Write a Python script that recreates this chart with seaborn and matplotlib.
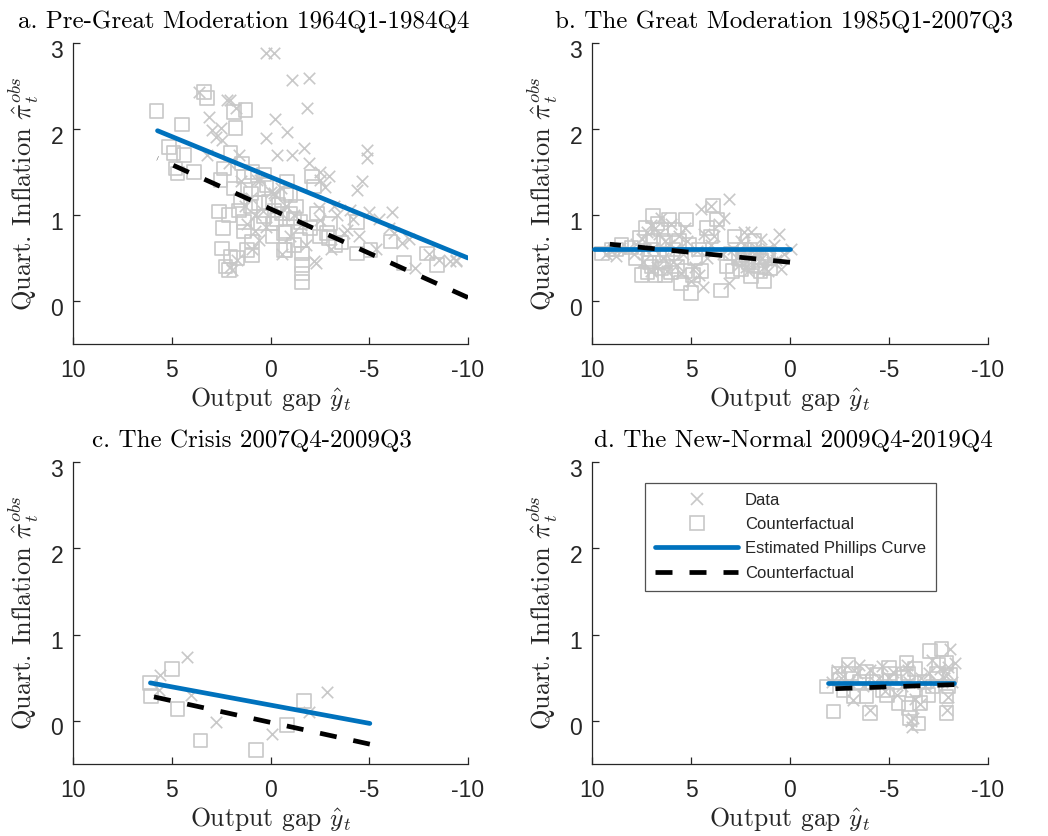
import numpy as np
import pandas as pd
import matplotlib
matplotlib.use("Agg")
import matplotlib.pyplot as plt
import matplotlib.transforms as mtransforms
from matplotlib.lines import Line2D
import seaborn as sns

# ---------------- data ----------------
titles = ["a. Pre-Great Moderation 1964Q1-1984Q4",
          "b. The Great Moderation 1985Q1-2007Q3",
          "c. The Crisis 2007Q4-2009Q3",
          "d. The New-Normal 2009Q4-2019Q4"]
x_ticks = [10, 5, 0, -5, -10]
x_ticklabels = ["10", "5", "0", "-5", "-10"]
y_ticks = [0, 1, 2, 3]
y_ticklabels = ["0", "1", "2", "3"]
legend_labels = ["Data", "Counterfactual", "Estimated Phillips Curve", "Counterfactual"]

# panel a
a_data_x = [0.25, -0.17, -1.10, -1.94, -1.86, 3.63, 2.03, 1.77, 3.12, -0.25, 2.95, 2.53, 2.78, 2.45,
            0.25, -0.34, -0.84, -1.10, -1.69, -1.94, -2.53, -2.95, -4.9, -4.9, -4.64, -4.39, -4.98,
            -6.16, -2.78, -2.45, -3.38, -3.71, -4.47, -5.32, -6.67, -2.19, -3.04, -7.34, -8.52, -9.11,
            -9.37, -2.53, -0.51, 0.67, 0.0, -0.25, -0.51, 0.76, 0.59, 0.25, 1.69, 1.94, 2.03, 0.93,
            -1.52, -2.53, -4.05, -6.24, -0.17, 0.51, -3.88, -2.28, 1.6, 1.0, 1.3, 0.8, -0.8, -1.2,
            1.5, 0.4, -1.0, -1.8, -3.2, -4.2, -5.5, -6.0, -7.0, -8.0, -9.4, 3.2, 2.1, 1.2, -0.6, 2.19]
a_data_y = [2.88, 2.88, 2.57, 2.59, 2.24, 2.43, 2.34, 2.24, 2.14, 2.12, 1.99, 2.01, 1.91, 1.87,
            1.89, 1.70, 1.97, 1.70, 1.78, 1.60, 1.50, 1.45, 1.76, 1.66, 1.39, 1.29, 1.04,
            1.04, 1.33, 1.08, 1.00, 0.79, 0.75, 0.61, 0.67, 0.46, 0.61, 0.38, 0.48, 0.46,
            0.48, 1.41, 1.02, 1.41, 1.27, 1.23, 1.31, 0.81, 0.71, 0.86, 0.48, 0.36, 0.40, 0.61,
            0.88, 0.94, 1.06, 0.79, 1.25, 1.41, 0.83, 0.44, 1.70, 1.20, 1.10, 1.00, 1.10, 1.00,
            1.40, 1.05, 0.75, 0.65, 1.10, 0.95, 0.95, 0.85, 0.72, 0.55, 0.47, 1.70, 1.60, 0.90, 0.55, 2.34]
a_cf_x = [5.77, 4.47, 3.38, 3.21, 1.86, 1.27, 1.77, 5.15, 4.90, 4.39, 4.81, 4.72, 3.88, 2.36,
          2.03, 1.43, 2.53, 1.86, 1.35, 0.93, 0.34, 2.62, 2.11, 1.52, 1.35, 1.01, 0.59, 0.34,
          1.35, 0.93, -0.09, -0.59, -0.68, -0.68, 2.45, 2.03, 1.69, 2.28, 2.11, 1.18, 0.93,
          -0.84, -1.01, -2.11, -2.19, -1.18, -1.52, -0.76, -1.52, -0.76, -1.60, -1.60, -1.60, -1.60,
          -2.36, -2.87, -3.29, -2.95, -4.39, -4.39, -5.06, -6.08, -6.75, -7.93, -8.44, 1.0, 0.6,
          -0.2, -0.4, -0.3, 0.1, -1.3, -1.0, 0.5, -0.1, -1.2, -2.0, -2.5, -3.6, -3.0, 1.6, 2.4,
          0.2, -0.8]
a_cf_y = [2.21, 2.05, 2.43, 2.36, 2.20, 2.22, 2.01, 1.79, 1.72, 1.70, 1.54, 1.48, 1.50, 1.54,
          1.72, 1.60, 1.41, 1.31, 1.45, 1.50, 1.47, 1.04, 1.00, 1.17, 0.92, 1.10, 1.14, 0.98,
          0.81, 0.69, 0.90, 1.02, 0.79, 0.59, 0.61, 0.52, 0.50, 0.40, 0.36, 0.59, 0.53,
          1.39, 1.23, 1.45, 1.33, 0.96, 0.92, 0.81, 0.71, 0.59, 0.55, 0.42, 0.32, 0.22,
          1.02, 0.79, 0.65, 0.73, 0.92, 0.55, 0.59, 0.69, 0.44, 0.55, 0.42, 1.25, 1.30,
          1.05, 1.12, 0.95, 1.15, 1.10, 1.02, 0.90, 0.75, 0.65, 0.85, 0.75, 0.68, 0.90, 1.05, 0.85,
          1.35, 1.25]
a_pc_x = [5.72, -10.0]
a_pc_y = [1.98, 0.50]
a_cfl_x = [5.72, -10.0]
a_cfl_y = [1.66, 0.04]

# panel b
b_data_x = [9.3, 9.0, 8.6, 8.2, 7.8, 7.5, 7.2, 7.0, 6.8, 6.6, 6.5, 6.3, 6.1, 6.0, 5.8, 5.6, 5.4, 5.2,
            5.0, 4.8, 4.6, 4.49, 4.41, 4.33, 4.2, 4.0, 3.99, 3.82, 3.6, 3.32, 3.07, 3.07, 2.9, 2.7,
            2.5, 2.3, 2.14, 1.97, 1.8, 1.6, 1.46, 1.3, 1.13, 1.0, 0.8, 0.54, 0.45, 0.3, -0.05, 7.4,
            7.0, 6.7, 6.2, 5.9, 5.5, 7.9, 8.8, 3.4, 2.0, 1.7, 2.6, 1.1, 0.7, 5.3, 6.9, 4.7, 2.3, 1.4,
            7.3, 6.4, 5.7, 2.2, 1.9, 0.9]
b_data_y = [0.55, 0.58, 0.62, 0.60, 0.66, 0.72, 0.80, 0.88, 0.85, 0.78, 0.97, 0.70, 0.65, 0.90,
            0.60, 0.75, 0.55, 0.70, 0.23, 0.40, 0.30, 1.07, 0.16, 0.78, 0.50, 0.65, 1.10, 0.76,
            0.90, 0.97, 1.19, 0.21, 0.60, 0.50, 0.70, 0.65, 0.35, 0.80, 0.45, 0.55, 0.72, 0.40,
            0.60, 0.50, 0.65, 0.78, 0.37, 0.55, 0.60, 0.45, 0.35, 0.40, 0.35, 0.45, 0.32, 0.55,
            0.52, 0.55, 0.50, 0.62, 0.42, 0.35, 0.48, 0.85, 0.62, 0.58, 0.80, 0.50, 0.60, 0.50,
            0.42, 0.40, 0.58, 0.45]
b_cf_x = [9.5, 9.0, 8.79, 8.5, 8.0, 7.61, 7.3, 7.19, 7.02, 6.93, 6.8, 6.6, 6.52, 6.4, 6.2, 6.01,
          5.84, 5.7, 5.5, 5.25, 5.1, 5.0, 4.8, 4.5, 4.2, 3.90, 3.7, 3.48, 3.2, 2.81, 2.6, 2.47,
          2.3, 2.1, 1.97, 1.8, 1.6, 1.46, 1.30, 1.2, 1.0, 7.5, 7.1, 6.9, 6.7, 6.3, 5.9, 5.3, 4.6,
          4.0, 3.0, 2.0, 1.5, 7.8, 6.1, 5.6, 4.9, 2.9, 1.7, 7.0, 6.5, 2.4, 1.9, 1.1]
b_cf_y = [0.55, 0.60, 0.60, 0.65, 0.62, 0.74, 0.85, 0.33, 0.60, 0.99, 0.30, 0.45, 0.83, 0.70,
          0.55, 0.33, 0.83, 0.40, 0.21, 0.95, 0.65, 0.09, 0.50, 0.35, 0.85, 1.11, 0.95, 0.12,
          0.40, 0.75, 0.50, 0.37, 0.60, 0.45, 0.29, 0.70, 0.40, 0.47, 0.23, 0.55, 0.38, 0.30,
          0.45, 0.70, 0.90, 0.30, 0.60, 0.35, 0.60, 0.75, 0.55, 0.60, 0.35, 0.50, 0.95, 0.70,
          0.30, 0.35, 0.55, 0.40, 0.38, 0.48, 0.42, 0.50]
b_pc_x = [9.9, 0.0]
b_pc_y = [0.61, 0.61]
b_cfl_x = [9.1, 0.0]
b_cfl_y = [0.66, 0.45]

# panel c
c_data_x = [5.65, 5.57, 4.22, 4.05, 2.78, -0.08, -1.94, -2.84]
c_data_y = [0.36, 0.53, 0.74, 0.30, -0.01, -0.15, 0.10, 0.34]
c_cf_x = [6.11, 4.98, 6.04, 4.72, 3.54, 0.73, -0.84, -1.69]
c_cf_y = [0.44, 0.60, 0.29, 0.14, -0.23, -0.34, -0.05, 0.23]
c_pc_x = [6.08, -5.03]
c_pc_y = [0.44, -0.03]
c_cfl_x = [5.94, -5.03]
c_cfl_y = [0.28, -0.27]

# panel d
d_data_x = [-2.36, -2.6, -2.86, -3.0, -3.2, -3.4, -3.7, -4.04, -4.04, -4.3, -4.63, -4.8, -5.0,
            -5.22, -5.4, -5.64, -5.97, -5.9, -6.0, -6.14, -6.23, -6.3, -6.57, -6.6, -6.8, -7.0,
            -7.16, -7.4, -7.6, -7.8, -7.91, -7.91, -7.99, -8.08, -8.33, -8.2, -8.0, -2.1, -3.5,
            -4.5, -6.1]
d_data_y = [0.59, 0.50, 0.63, 0.45, 0.24, 0.55, 0.40, 0.59, 0.13, 0.45, 0.63, 0.35, 0.50,
            0.57, 0.30, 0.40, 0.59, 0.65, 0.45, -0.07, 0.03, 0.25, 0.19, 0.50, 0.40, 0.55,
            0.71, 0.45, 0.60, 0.50, 0.55, 0.13, 0.28, 0.83, 0.67, 0.45, 0.62, 0.45, 0.65,
            0.50, 0.00]
d_cf_x = [-1.85, -2.19, -2.44, -2.95, -3.20, -3.5, -3.87, -3.87, -4.04, -4.38, -4.71, -5.05,
          -5.3, -5.47, -5.89, -5.97, -6.06, -6.48, -6.57, -6.2, -6.8, -7.07, -7.2, -7.41, -7.66,
          -7.91, -7.91, -7.91, -8.08, -2.7, -3.1, -4.2, -4.9, -5.7, -6.3, -7.0, -7.5, -8.0, -2.5,
          -5.0, -6.0]
d_cf_y = [0.40, 0.11, 0.55, 0.65, 0.28, 0.45, 0.57, 0.28, 0.09, 0.53, 0.36, 0.55,
          0.45, 0.21, 0.67, 0.55, 0.03, -0.03, 0.21, 0.35, 0.45, 0.81, 0.40, 0.55, 0.83,
          0.67, 0.28, 0.09, 0.53, 0.35, 0.55, 0.45, 0.30, 0.50, 0.60, 0.30, 0.65, 0.40, 0.48,
          0.62, 0.15]
d_pc_x = [-1.9, -8.3]
d_pc_y = [0.44, 0.44]
d_cfl_x = [-1.9, -8.3]
d_cfl_y = [0.37, 0.42]

panels = [
    (a_data_x, a_data_y, a_cf_x, a_cf_y, a_pc_x, a_pc_y, a_cfl_x, a_cfl_y),
    (b_data_x, b_data_y, b_cf_x, b_cf_y, b_pc_x, b_pc_y, b_cfl_x, b_cfl_y),
    (c_data_x, c_data_y, c_cf_x, c_cf_y, c_pc_x, c_pc_y, c_cfl_x, c_cfl_y),
    (d_data_x, d_data_y, d_cf_x, d_cf_y, d_pc_x, d_pc_y, d_cfl_x, d_cfl_y),
]

# ---------------- style ----------------
sns.set_style("ticks")
plt.rcParams["mathtext.fontset"] = "cm"
plt.rcParams["font.family"] = ["Liberation Sans", "DejaVu Sans"]
plt.rcParams["xtick.direction"] = "in"
plt.rcParams["ytick.direction"] = "in"
AXC = "#262626"
GRAY = "#c8c8c8"
BLUE = "#0072BD"
DASH = (0, (3.6, 3.6))

fig = plt.figure(figsize=(10.48, 8.36), dpi=100)
W, H = 1048, 836
positions = [(73, 43, 468, 344), (592, 43, 988, 344),
             (73, 462, 468, 764), (592, 462, 988, 764)]
title_x = [0.433, 0.485, 0.454, 0.508]
ylab_shift = mtransforms.ScaledTranslation(0, -4 / 72, fig.dpi_scale_trans)

for i, (pos, pdata) in enumerate(zip(positions, panels)):
    l, t, r, b = pos
    ax = fig.add_axes([l / W, 1 - b / H, (r - l) / W, (b - t) / H])
    dx, dy, cx, cy, px_, py_, kx, ky = pdata
    sns.scatterplot(x=dx, y=dy, ax=ax, marker="x", s=68, color=GRAY, linewidth=1.2, zorder=2)
    sns.scatterplot(x=cx, y=cy, ax=ax, marker="s", s=95, facecolor="none",
                    edgecolor=GRAY, linewidth=1.2, zorder=2)
    sns.lineplot(x=px_, y=py_, ax=ax, color=BLUE, linewidth=3.4, zorder=3)
    sns.lineplot(x=kx, y=ky, ax=ax, color="black", linewidth=3.4, zorder=3,
                 dashes=False, linestyle=DASH)
    ax.set_xlim(10, -10)
    ax.set_ylim(-0.5, 3)
    ax.set_xticks(x_ticks)
    ax.set_xticklabels(x_ticklabels)
    ax.set_yticks(y_ticks)
    ax.set_yticklabels(y_ticklabels)
    ax.tick_params(axis="both", labelsize=16.5, colors=AXC, length=5, width=0.9)
    ax.tick_params(axis="x", pad=11)
    ax.tick_params(axis="y", pad=7)
    for lab in ax.get_yticklabels():
        lab.set_transform(lab.get_transform() + ylab_shift)
    for s in ["top", "right"]:
        ax.spines[s].set_visible(False)
    for s in ["left", "bottom"]:
        ax.spines[s].set_color(AXC)
        ax.spines[s].set_linewidth(0.9)
    ax.set_title(titles[i], fontsize=18, family="cmr10", color="black", pad=11, x=title_x[i])
    ax.set_xlabel(r"Output gap $\hat{y}_t$", fontsize=18.5, family="cmr10", labelpad=2)
    ax.set_ylabel(r"Quart. Inflation $\hat{\pi}_t^{obs}$", fontsize=19, family="cmr10", labelpad=7)

    if i == 3:
        handles = [
            Line2D([], [], marker="x", color=GRAY, linestyle="none", markersize=9, markeredgewidth=1.2),
            Line2D([], [], marker="s", color=GRAY, markerfacecolor="none", linestyle="none",
                   markersize=10, markeredgewidth=1.2),
            Line2D([], [], color=BLUE, linewidth=3.4),
            Line2D([], [], color="black", linewidth=3.4, linestyle=DASH),
        ]
        leg = ax.legend(handles, legend_labels, loc="upper left",
                        bbox_to_anchor=(53 / 396, 1 - 21 / 302), fontsize=12,
                        frameon=True, fancybox=False, handlelength=5.0, handletextpad=0.4,
                        borderpad=0.6, labelspacing=0.55, borderaxespad=0)
        leg.get_frame().set_edgecolor(AXC)
        leg.get_frame().set_linewidth(0.9)

fig.savefig("out.png", dpi=100)
